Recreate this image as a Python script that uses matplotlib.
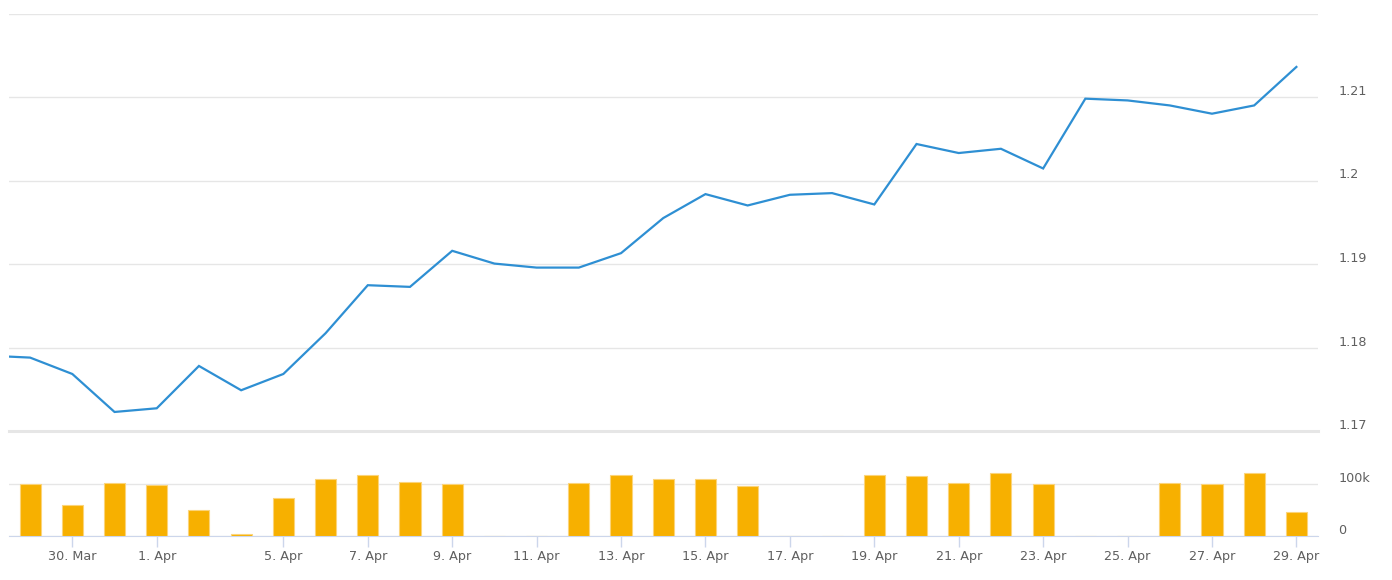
import matplotlib
matplotlib.use("Agg")
import matplotlib.pyplot as plt
from matplotlib.ticker import FixedLocator, FixedFormatter
from matplotlib.transforms import ScaledTranslation
import numpy as np

# daily points (3 Apr is not in the data)
dates = ["28. Mar", "29. Mar", "30. Mar", "31. Mar", "1. Apr", "2. Apr", "4. Apr",
         "5. Apr", "6. Apr", "7. Apr", "8. Apr", "9. Apr", "10. Apr", "11. Apr",
         "12. Apr", "13. Apr", "14. Apr", "15. Apr", "16. Apr", "17. Apr", "18. Apr",
         "19. Apr", "20. Apr", "21. Apr", "22. Apr", "23. Apr", "24. Apr", "25. Apr",
         "26. Apr", "27. Apr", "28. Apr", "29. Apr"]
price = [1.17903, 1.17879, 1.17683, 1.17228, 1.17272, 1.17779, 1.17488,
         1.17683, 1.18171, 1.18746, 1.18726, 1.19158, 1.19005, 1.18957,
         1.18957, 1.19130, 1.19550, 1.19837, 1.19701, 1.19829, 1.19849,
         1.19713, 1.20437, 1.20329, 1.20380, 1.20144, 1.20980, 1.20959,
         1.20899, 1.20800, 1.20899, 1.21360]
volume = [0, 99400, 58900, 101300, 96200, 49400, 4400,
          72800, 108200, 115800, 103200, 98900, 0, 0,
          101300, 115800, 108200, 108200, 94300, 0, 0,
          115800, 115200, 101300, 120300, 99400, 0, 0,
          101300, 99400, 120300, 46200]
tick_dates = ["30. Mar", "1. Apr", "5. Apr", "7. Apr", "9. Apr", "11. Apr", "13. Apr",
              "15. Apr", "17. Apr", "19. Apr", "21. Apr", "23. Apr", "25. Apr",
              "27. Apr", "29. Apr"]
price_ticks = [1.17, 1.18, 1.19, 1.2, 1.21, 1.22]
price_labels = ["1.17", "1.18", "1.19", "1.2", "1.21", ""]
vol_ticks = [0, 100000, 200000]
vol_labels = ["0", "100k", ""]

W, H = 1392, 580
fig = plt.figure(figsize=(W / 100, H / 100), dpi=100)
left, right = 9 / W, 1317.5 / W
ax1 = fig.add_axes([left, 1 - 431 / H, right - left, (431 - 13.5) / H])
ax2 = fig.add_axes([left, 1 - 536 / H, right - left, (536 - 431) / H])

x = np.arange(len(dates))
grid_c = "#e6e6e6"
label_c = "#5f5f5f"
fs = 9.2

ax1.plot(x, price, color="#2e8fd3", lw=1.6, solid_joinstyle="miter", zorder=3)
ax1.set_ylim(1.17, 1.22)
ax2.bar(x, volume, width=0.5, color="#f7b000", edgecolor="#fbd47a", linewidth=0.8, zorder=3)
ax2.set_ylim(0, 200000)

for ax, ticks, labels in [(ax1, price_ticks, price_labels), (ax2, vol_ticks, vol_labels)]:
    ax.set_xlim(0.5, len(dates) - 0.5)
    ax.set_facecolor("none")
    for s in ax.spines.values():
        s.set_visible(False)
    ax.yaxis.set_major_locator(FixedLocator(ticks))
    ax.yaxis.set_major_formatter(FixedFormatter(labels))
    ax.yaxis.tick_right()
    ax.tick_params(axis="y", length=0, pad=15, labelsize=fs, labelcolor=label_c)
    for lab in ax.get_yticklabels():
        lab.set_horizontalalignment("left")
        lab.set_transform(lab.get_transform() + ScaledTranslation(0, 0.07, fig.dpi_scale_trans))
    ax.grid(axis="y", color=grid_c, lw=1)
    ax.set_axisbelow(True)

ax1.set_xticks([])

# bottom date axis
tick_pos = [dates.index(d) for d in tick_dates]
ax2.set_xticks(tick_pos)
ax2.set_xticklabels(tick_dates)
ax2.spines["bottom"].set_visible(True)
ax2.spines["bottom"].set_color("#ccd6eb")
ax2.tick_params(axis="x", length=8, width=1, color="#ccd6eb", pad=2,
                labelsize=fs, labelcolor=label_c)

# thicker separator between panes
ax2.axhline(200000, color=grid_c, lw=2.2, zorder=1, clip_on=False)

fig.savefig("out.png", dpi=100)
